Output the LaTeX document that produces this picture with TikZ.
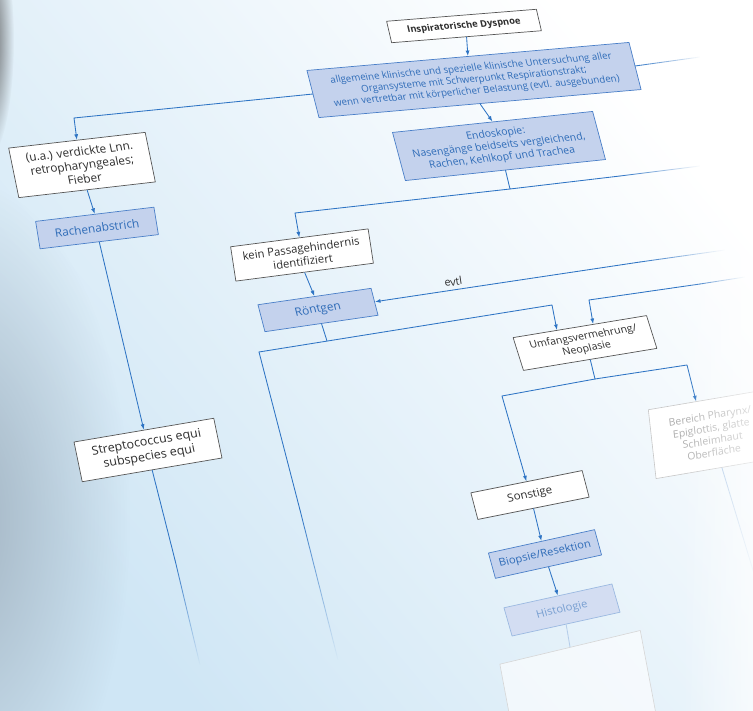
\documentclass[tikz,border=0pt]{standalone}
\usepackage{fontspec}
\setsansfont{Open Sans}
\usetikzlibrary{arrows.meta,calc,fadings}

\definecolor{flowblue}{HTML}{2E74C4}
\definecolor{boxblue}{HTML}{4A7FC8}
\definecolor{boxfill}{HTML}{C4D2ED}
\definecolor{boxtext}{HTML}{2F6CB8}
\definecolor{boxline}{HTML}{555555}
\definecolor{darktext}{HTML}{2E2E2E}
\definecolor{bgblue}{HTML}{CFE6F5}
\definecolor{hairgray}{HTML}{9AAAB8}

\tikzfading[name=fade out, inner color=transparent!0, outer color=transparent!100]

\begin{document}
\begin{tikzpicture}[
  x=1pt, y=-1pt,
  line cap=round,
  line join=round,
  font=\sffamily\fontsize{9}{10.8}\selectfont,
  tilt/.style n args={3}{yslant=#1, xslant=-#2, scale=#3},
  whitebox/.style={draw=boxline, fill=white, text=darktext, align=center, line width=0.7pt, inner sep=2pt},
  bluebox/.style={draw=boxblue, fill=boxfill, text=boxtext, align=center, line width=0.7pt, inner sep=2pt},
  palebox/.style={bluebox, draw=boxblue!55, fill=boxfill!75, text=boxtext!65},
  fadedbox/.style={draw=black!22, fill=white, text=black!32, align=center, line width=0.6pt, inner sep=2pt},
  flow/.style={-{Latex[length=5.5pt,width=4pt]}, draw=flowblue, line width=0.85pt},
  link/.style={draw=flowblue, line width=0.85pt},
  tailR/.style={link, path fading=east},
  tailD/.style={link, path fading=south}
]

% Background of the cover photo.
\useasboundingbox (0,0) rectangle (753,711);
\shade[top color=white, bottom color=bgblue, shading angle=-50] (0,0) rectangle (753,711);
\fill[hairgray, path fading=fade out, opacity=0.85] (-40,520) ellipse [x radius=170, y radius=340];
\fill[black!70, path fading=fade out] (-14,40) ellipse [x radius=28, y radius=120];

% Boxes.
\node[whitebox, tilt={0.08}{0.23}{1.04}, minimum width=144pt, minimum height=21pt,
  font=\sffamily\bfseries\fontsize{9}{10.8}\selectfont] (dysp) at (464,26) {Inspiratorische Dyspnoe};
\node[bluebox, tilt={0.087}{0.25}{1.07}, minimum width=301pt, minimum height=45pt] (allg) at (474,80)
  {allgemeine klinische und spezielle klinische Untersuchung aller\\Organsysteme mit Schwerpunkt Respirationstrakt;\\wenn vertretbar mit körperlicher Belastung (evtl. ausgebunden)};
\node[bluebox, tilt={0.105}{0.26}{1.15}, minimum width=174pt, minimum height=43pt] (endo) at (499,146)
  {Endoskopie:\\Nasengänge beidseits vergleichend,\\Rachen, Kehlkopf und Trachea};
\node[whitebox, tilt={0.115}{0.2}{1.3}, minimum width=105pt, minimum height=39pt] (ua) at (82,165)
  {(u.a.) verdickte Lnn.\\retropharyngeales;\\Fieber};
\node[bluebox, tilt={0.12}{0.16}{1.3}, minimum width=91pt, minimum height=21.5pt] (rach) at (97,228) {Rachenabstrich};
\node[whitebox, tilt={0.13}{0.15}{1.25}, minimum width=110pt, minimum height=28pt] (kein) at (302,255)
  {kein Passagehindernis\\identifiziert};
\node[bluebox, tilt={0.145}{0.25}{1.3}, minimum width=87pt, minimum height=21.5pt] (roent) at (318,310) {Röntgen};
\node[whitebox, tilt={0.165}{0.3}{1.15}, minimum width=116pt, minimum height=30pt] (umf) at (585,343)
  {Umfangsvermehrung/\\Neoplasie};
\node[fadedbox, tilt={0.17}{0.11}{1.15}, minimum width=104pt, minimum height=61pt] (ber) at (712,434)
  {Bereich Pharynx/\\Epiglottis, glatte\\Schleimhaut\\Oberfläche};
\node[whitebox, tilt={0.17}{0.2}{1.37}, minimum width=102pt, minimum height=30pt] (strep) at (148,450)
  {Streptococcus equi\\subspecies equi};
\node[whitebox, tilt={0.2}{0.25}{1.25}, minimum width=89pt, minimum height=22.4pt] (sonst) at (530,495) {Sonstige};
\node[bluebox, tilt={0.22}{0.26}{1.22}, minimum width=87pt, minimum height=22pt] (biop) at (545,554) {Biopsie/Resektion};
\node[palebox, tilt={0.22}{0.27}{1.22}, minimum width=88.5pt, minimum height=24.6pt] (histo) at (562,610) {Histologie};
\node[fadedbox, draw=black!16, fill opacity=0.6, tilt={0.24}{0.18}{1.2}, minimum width=117pt, minimum height=90pt, anchor=north] (leer) at (570,647) {};

% Corner points of the connectors.
\coordinate (jUa) at (74,118);
\coordinate (jAllgR) at (700,57);
\coordinate (jEndo) at (510,189);
\coordinate (jKein) at (295,213);
\coordinate (jEndoM) at (620,176);
\coordinate (jEndoR) at (700,166);
\coordinate (jEvtlM) at (640,262);
\coordinate (jEvtlR) at (725,250);
\coordinate (jRoe) at (327,341);
\coordinate (jRoL) at (259,352);
\coordinate (jRoM) at (300,510);
\coordinate (jRoD) at (338,660);
\coordinate (jUmfL) at (552,305);
\coordinate (jUmfR) at (589,300);
\coordinate (jUmfM) at (700,284);
\coordinate (jUmfE) at (745,277);
\coordinate (jUmfS) at (595,379);
\coordinate (jSon) at (502,396);
\coordinate (jBer) at (687,365);
\coordinate (jStrM) at (175,560);
\coordinate (jStrD) at (200,665);
\coordinate (jBerD) at (762,600);

% Connectors.
\draw[flow] (dysp.south) -- (allg.north);
\draw[flow] (allg.south) -- (endo.north);
\draw[flow] (allg.west) -- (jUa) -- (ua.north);
\draw[tailR] (allg.east) -- (jAllgR);
\draw[flow] (ua.south) -- (rach.north);
\draw[flow] (rach.south) -- (strep.north);
\draw[link] (strep.south) -- (jStrM);
\draw[tailD] (jStrM) -- (jStrD);

\draw[link] (endo.south) -- (jEndo) -- (jEndoM);
\draw[tailR] (jEndoM) -- (jEndoR);
\draw[flow] (jEndo) -- (jKein) -- (kein.north);
\draw[flow] (kein.south) -- (roent.north);
\draw[tailR] (jEvtlM) -- (jEvtlR);
\draw[flow] (jEvtlM) -- node[pos=0.7, sloped, above, scale=1.2, text=darktext, inner sep=3pt] (evtl) {evtl} (roent.east);

\draw[link] (roent.south) -- (jRoe);
\draw[flow] (jRoL) -- (jUmfL) -- ($(umf.north west)!0.33!(umf.north east)$);
\draw[link] (jRoL) -- (jRoM);
\draw[tailD] (jRoM) -- (jRoD);
\draw[tailR] (jUmfM) -- (jUmfE);
\draw[flow] (jUmfM) -- (jUmfR) -- ($(umf.north west)!0.6!(umf.north east)$);

\draw[link] (umf.south) -- (jUmfS);
\draw[flow] (jUmfS) -- (jSon) -- (sonst.north);
\draw[flow] (jUmfS) -- (jBer) -- ($(ber.north west)!0.4!(ber.north east)$);
\draw[tailD, draw=flowblue!40] ($(ber.south west)!0.55!(ber.south east)$) -- (jBerD);
\draw[flow] (sonst.south) -- (biop.north);
\draw[flow] (biop.south) -- (histo.north);
\draw[link, draw=flowblue!35] (histo.south) -- (leer.north);

% Washed-out right edge.
\fill[white, path fading=west, opacity=0.6] (680,0) rectangle (753,711);

\end{tikzpicture}
\end{document}
